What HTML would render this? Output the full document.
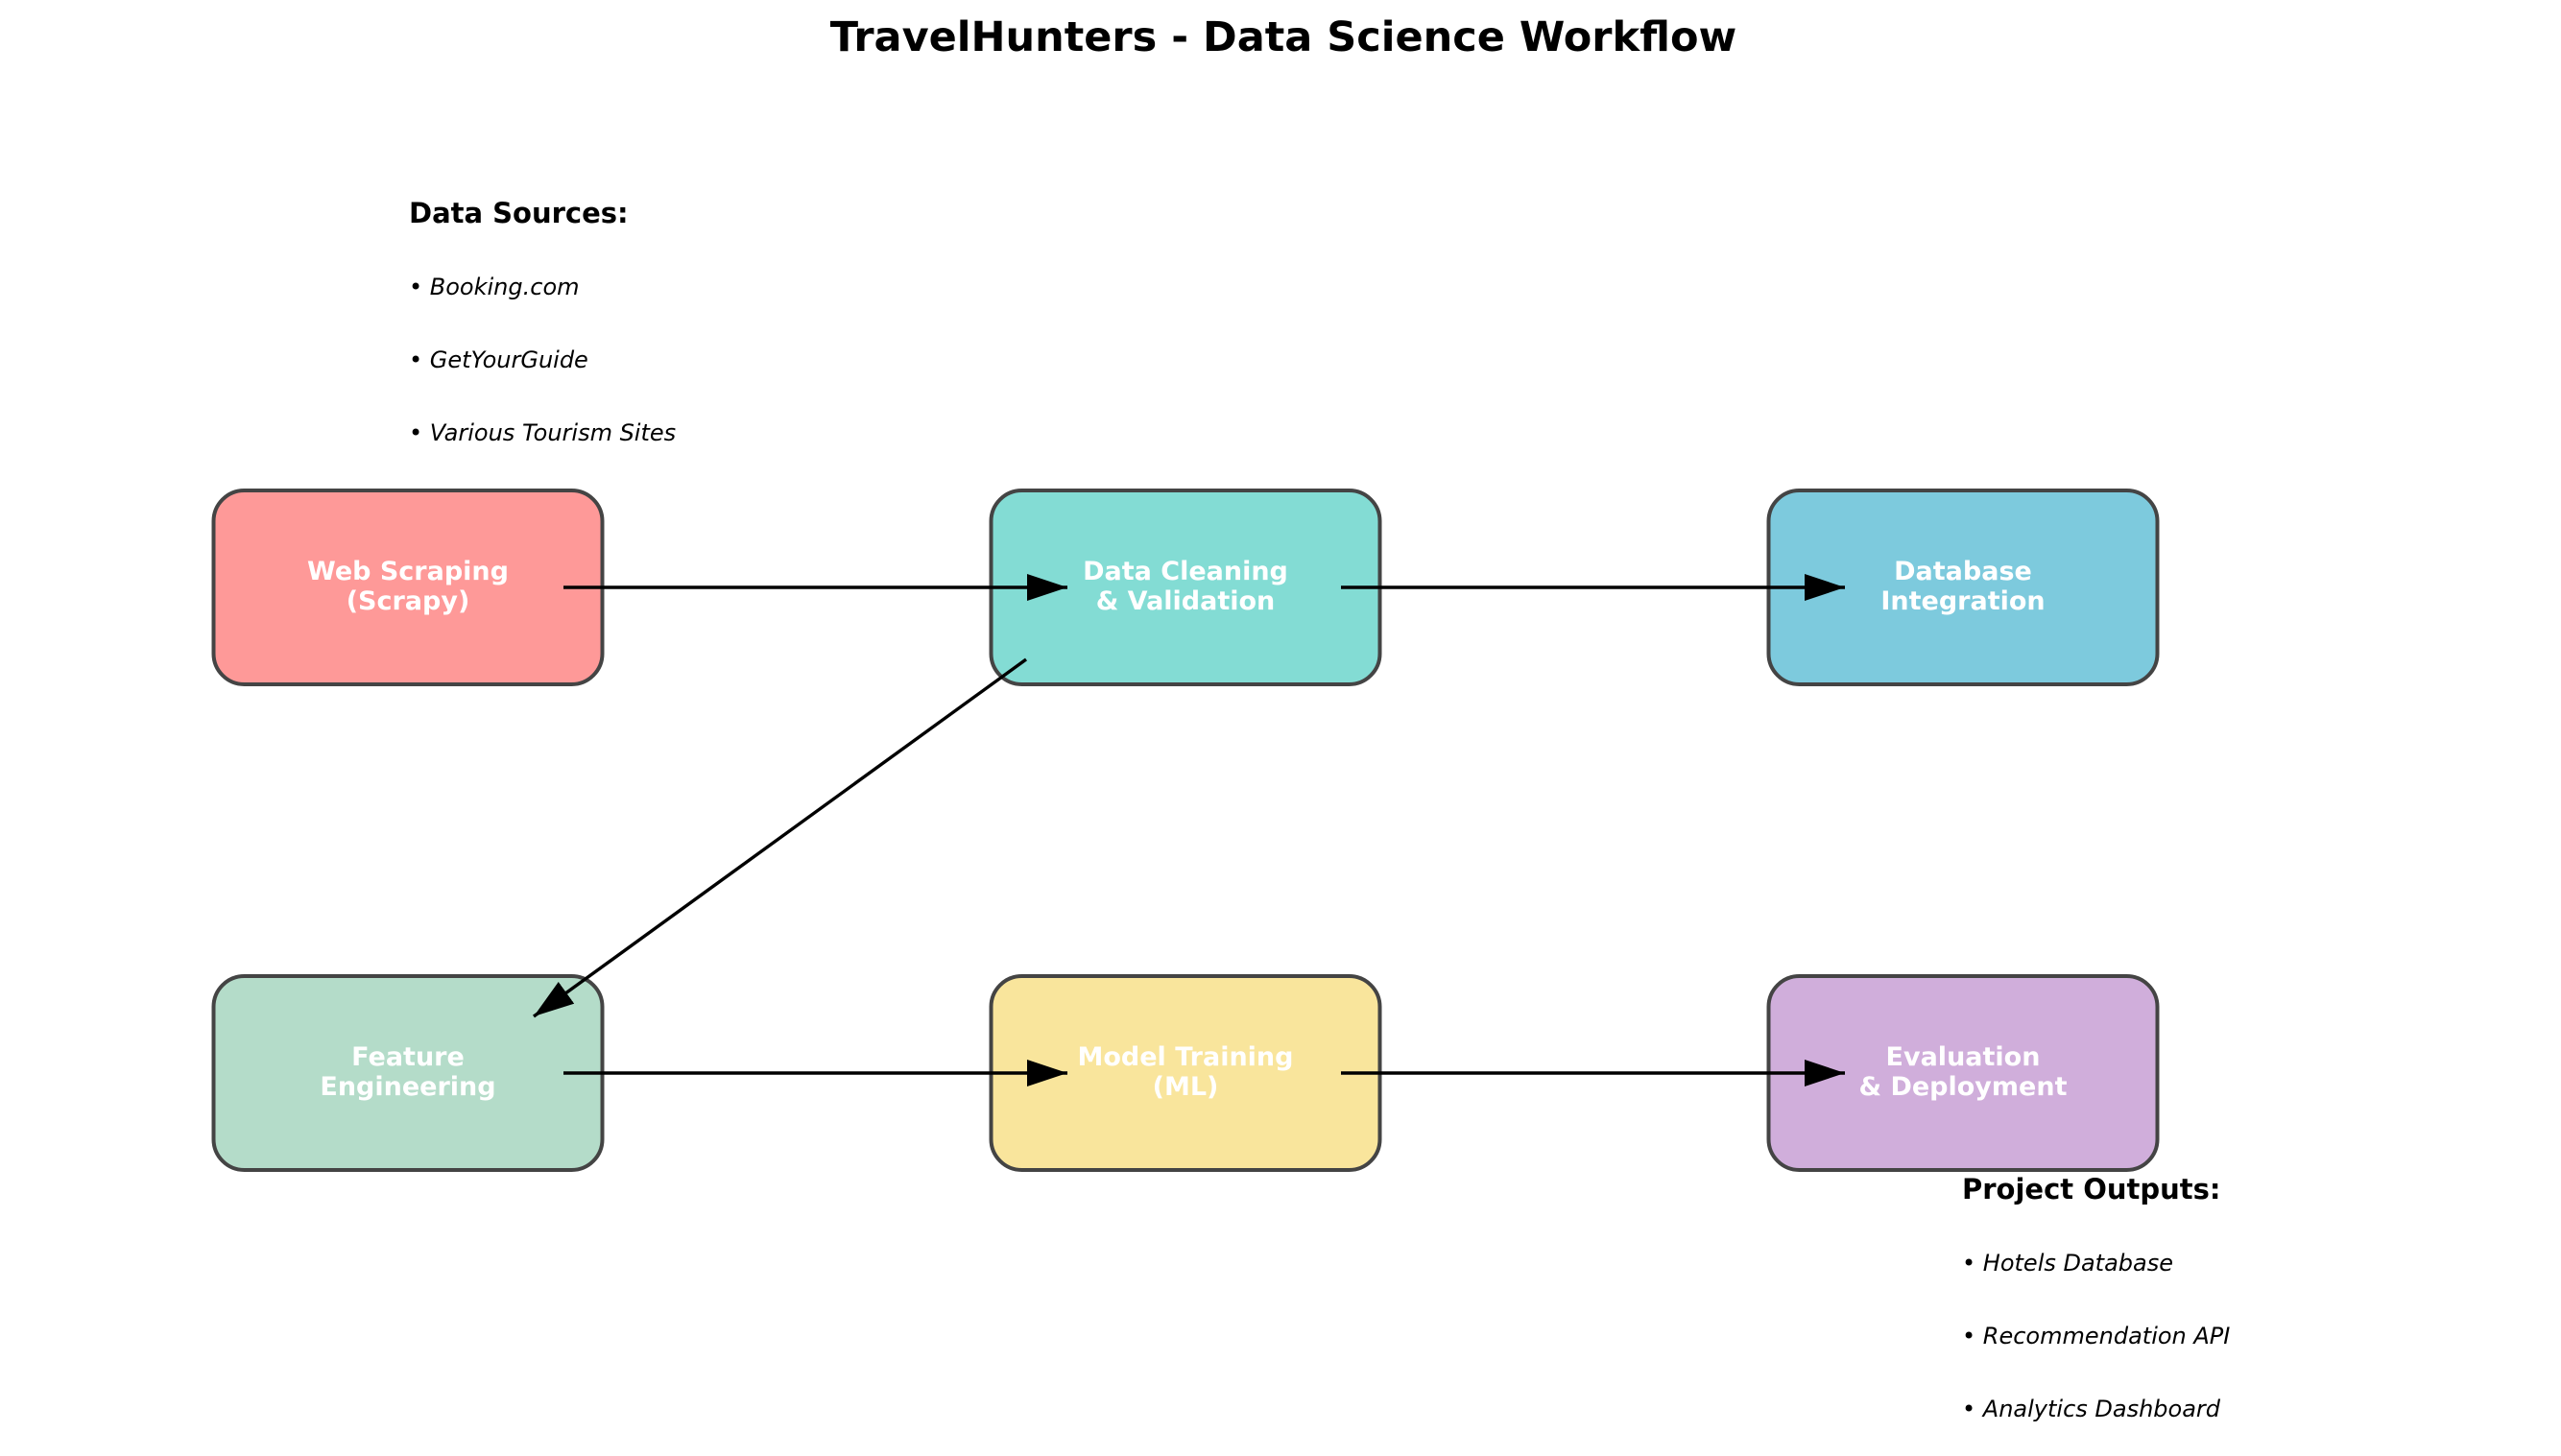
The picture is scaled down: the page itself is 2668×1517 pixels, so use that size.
<!DOCTYPE html>
<html><head><meta charset="utf-8"><style>
html,body{margin:0;padding:0;background:#fff;}
svg{display:block;font-family:"DejaVu Sans","Liberation Sans",sans-serif;}
</style></head><body>
<svg id="chart" width="2668" height="1517" viewBox="0 0 2668 1517" xmlns="http://www.w3.org/2000/svg">
<defs><marker id="ah" markerWidth="44" markerHeight="30" refX="42" refY="14" orient="auto" markerUnits="userSpaceOnUse"><path d="M0,0 L42,14 L0,28 Z" fill="#000"/></marker></defs>
<text x="1337" y="53" text-anchor="middle" font-size="43" font-weight="bold" fill="#000">TravelHunters - Data Science Workflow</text>
<g id="boxes"></g>
<g id="arrows"></g>
<g id="notes"></g>
</svg>
<script>
const stepLabels = [["Web Scraping","(Scrapy)"],["Data Cleaning","& Validation"],["Database","Integration"],["Feature","Engineering"],["Model Training","(ML)"],["Evaluation","& Deployment"]];
const stepCols = [0,1,2,0,1,2];
const stepRows = [0,0,0,1,1,1];
const stepColors = ["#fe9998","#83dcd4","#7dcadd","#b4dcc9","#f9e59c","#d0aedb"];
const links = [[0,1],[1,2],[1,3],[3,4],[4,5]];
const sources = ["Data Sources:","• Booking.com","• GetYourGuide","• Various Tourism Sites"];
const outputs = ["Project Outputs:","• Hotels Database","• Recommendation API","• Analytics Dashboard"];
const NS="http://www.w3.org/2000/svg";
const colX=c=>425+c*810, rowY=r=>612+r*506;
const W=405,H=202;
const gb=document.getElementById('boxes');
stepLabels.forEach((lab,i)=>{
  const cx=colX(stepCols[i]), cy=rowY(stepRows[i]);
  const r=document.createElementNS(NS,'rect');
  
  
  r.setAttribute('x',cx-W/2);r.setAttribute('y',cy-H/2);r.setAttribute('width',W);r.setAttribute('height',H);
  r.setAttribute('rx',32);r.setAttribute('fill',stepColors[i]);r.setAttribute('stroke','#444');r.setAttribute('stroke-width',4);
  gb.appendChild(r);
  const t=document.createElementNS(NS,'text');
  
  
  t.setAttribute('x',cx);t.setAttribute('text-anchor','middle');t.setAttribute('font-size',27);t.setAttribute('font-weight','bold');t.setAttribute('fill','#fff');
  lab.forEach((l,j)=>{const s=document.createElementNS(NS,'tspan');s.setAttribute('x',cx);s.setAttribute('y',cy-8+j*31);s.textContent=l;t.appendChild(s);});
  gb.appendChild(t);
});
const ga=document.getElementById('arrows');
links.forEach(([a,b],k)=>{
  const x1=colX(stepCols[a]),y1=rowY(stepRows[a]),x2=colX(stepCols[b]),y2=rowY(stepRows[b]);
  let sx,sy,ex,ey;
  if(y1===y2){sx=x1+162;ex=x2-123;sy=ey=y1;}
  else{sx=x1-166;sy=y1+75;ex=x2+131;ey=y2-59;}
  const l=document.createElementNS(NS,'line');
  
  
  l.setAttribute('x1',sx);l.setAttribute('y1',sy);l.setAttribute('x2',ex);l.setAttribute('y2',ey);
  l.setAttribute('stroke','#000');l.setAttribute('stroke-width',3.4);l.setAttribute('marker-end','url(#ah)');
  ga.appendChild(l);
});
const gn=document.getElementById('notes');
function note(list,x,y,name){
  list.forEach((s,i)=>{
    const t=document.createElementNS(NS,'text');
    
    
    t.setAttribute('x',x);t.setAttribute('y',i===0?y:y+i*76);
    t.setAttribute('dominant-baseline','middle');
    if(i===0){t.setAttribute('font-size',29);t.setAttribute('font-weight','bold');}
    else{t.setAttribute('font-size',24);t.setAttribute('font-style','italic');}
    t.textContent=s;gn.appendChild(t);
  });
}
note(sources,426,224,'data-sources');
note(outputs,2044,1241,'project-outputs');
</script>
</body></html>
